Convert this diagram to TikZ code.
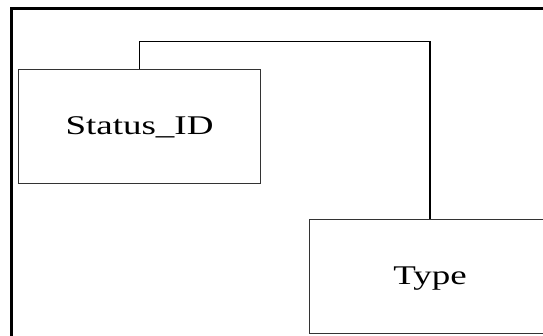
\documentclass[tikz,border=0pt]{standalone}
\usepackage{graphicx}
\usepackage{fontspec}
\setmainfont{Liberation Serif}
\begin{document}
\begin{tikzpicture}[x=1pt,y=-1pt,
  entity/.style={draw=black!80,line width=0.9pt,rectangle,inner sep=0pt,
    minimum width=242pt,minimum height=114pt,text depth=0pt,
    font=\fontsize{27}{30}\selectfont},
  link/.style={draw=black,line width=1.8pt},
  frame/.style={draw=black,line width=3pt}]
\useasboundingbox (0,0) rectangle (543,336);
\clip (0,0) rectangle (543,336);
% outer frame (right and bottom sides fall outside the page)
\draw[frame] (11.5,8.5) rectangle (580,360);
% entities
\node[entity] (status) at (139.5,126) {\scalebox{1.37}[1]{Status\_ID}};
\node[entity] (type) at (430,276) {\scalebox{1.37}[1]{Type}};
% relationship line
\coordinate (c1) at (139.5,41.5);
\coordinate (c2) at (430,41.5);
\draw[link] (status.north -| c1) -- (c1) -- (c2) -- (type.north);
\end{tikzpicture}
\end{document}
